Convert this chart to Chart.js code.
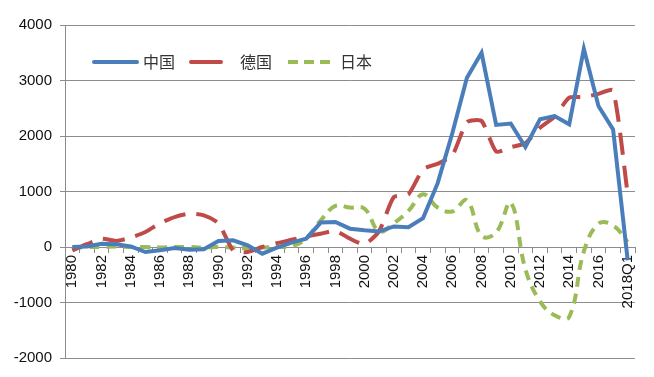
<!DOCTYPE html>
<html>
<head>
<meta charset="utf-8">
<script src="https://cdn.jsdelivr.net/npm/chart.js@4"></script>
<style>
  html, body { margin: 0; padding: 0; background: #fff; }
  canvas { display: block; }
</style>
</head>
<body>
<canvas id="fdiChart" width="654" height="377"></canvas>
<script>
// categories: 1980..2017 then 2018Q1
const years = [];
for (let y = 1980; y <= 2017; y++) years.push(String(y));
years.push("2018Q1");

// values
const chinaValues = [0, 10, 60, 50, 10, -90, -60, -20, -50, -40,
  110, 120, 30, -120, -10, 80, 150, 440, 450, 330,
  300, 280, 370, 355, 520, 1150, 2050, 3050, 3500, 2200,
  2225, 1800, 2300, 2360, 2210, 3570, 2540, 2120, -240];

const germanyValues = [-60, 50, 150, 110, 170, 270, 430, 540, 600, 570,
  430, -60, -90, 0, 70, 130, 190, 240, 290, 150,
  50, 290, 900, 950, 1400, 1500, 1650, 2250, 2270, 1720,
  1800, 1870, 2150, 2350, 2690, 2700, 2760, 2820, 950];

const japanValues = [-20, 0, 0, 10, 0, 0, -10, 0, 0, -10,
  0, -10, -20, -10, 0, 10, 150, 480, 740, 710,
  690, 280, 430, 650, 950, 710, 640, 840, 200, 260,
  800, -400, -980, -1230, -1260, -80, 420, 390, 90];

const seriesNames = ["中国", "德国", "日本"];
const yTicks = [4000, 3000, 2000, 1000, 0, -1000, -2000];

const BLUE = "#4a7ebb";
const RED = "#be4b48";
const GREEN = "#9bbb59";
const GRID = "#8c8c8c";

// legend drawn inside the plot like the original
const insideLegend = {
  id: "insideLegend",
  afterDraw(chart) {
    const c = chart.ctx;
    const y = 62;
    c.save();
    c.lineWidth = 4;
    c.lineCap = "round";

    c.strokeStyle = BLUE;
    c.beginPath(); c.moveTo(94, y); c.lineTo(137, y); c.stroke();

    c.strokeStyle = RED;
    c.beginPath(); c.moveTo(191, y); c.lineTo(221, y); c.stroke();

    c.lineCap = "butt";
    c.strokeStyle = GREEN;
    c.setLineDash([10, 6]);
    c.beginPath(); c.moveTo(288, y); c.lineTo(331, y); c.stroke();
    c.setLineDash([]);

    c.fillStyle = "#333";
    c.font = '16px "Noto Sans CJK SC"';
    c.textBaseline = "middle";
    c.fillText(seriesNames[0], 143, y);
    c.fillText(seriesNames[1], 240, y);
    c.fillText(seriesNames[2], 340, y);
    c.restore();
  }
};

const ctx = document.getElementById("fdiChart").getContext("2d");

new Chart(ctx, {
  type: "line",
  data: {
    labels: years,
    datasets: [
      {
        label: seriesNames[0],
        data: chinaValues,
        borderColor: BLUE,
        borderWidth: 4,
        tension: 0,
        pointRadius: 0
      },
      {
        label: seriesNames[1],
        data: germanyValues,
        borderColor: RED,
        borderWidth: 4,
        borderDash: [22, 11],
        tension: 0.2,
        pointRadius: 0
      },
      {
        label: seriesNames[2],
        data: japanValues,
        borderColor: GREEN,
        borderWidth: 4,
        borderDash: [10, 7],
        tension: 0.4,
        pointRadius: 0
      }
    ]
  },
  options: {
    responsive: false,
    animation: false,
    layout: { padding: { top: 25, right: 19, bottom: 19, left: 0 } },
    scales: {
      x: {
        position: { y: 0 },
        offset: true,
        grid: { offset: true, drawOnChartArea: false, drawTicks: true, tickLength: 5, color: GRID },
        border: { color: GRID, width: 1 },
        ticks: {
          autoSkip: false,
          maxRotation: 90,
          minRotation: 90,
          padding: 3,
          color: "#111",
          font: { family: "Liberation Sans", size: 15 },
          callback: (v, i) => (i % 2 === 0 || i === years.length - 1) ? years[i] : ""
        }
      },
      y: {
        min: -2000,
        max: 4000,
        afterFit: s => { s.width = 65; },
        afterBuildTicks: s => { s.ticks = yTicks.map(v => ({ value: v })); },
        grid: { color: GRID, tickLength: 5 },
        border: { color: GRID, width: 1 },
        ticks: {
          autoSkip: false,
          padding: 8,
          color: "#111",
          font: { family: "Liberation Sans", size: 15 },
          callback: v => String(v)
        }
      }
    },
    plugins: {
      legend: { display: false },
      tooltip: { enabled: false }
    }
  },
  plugins: [insideLegend]
});
</script>
</body>
</html>
